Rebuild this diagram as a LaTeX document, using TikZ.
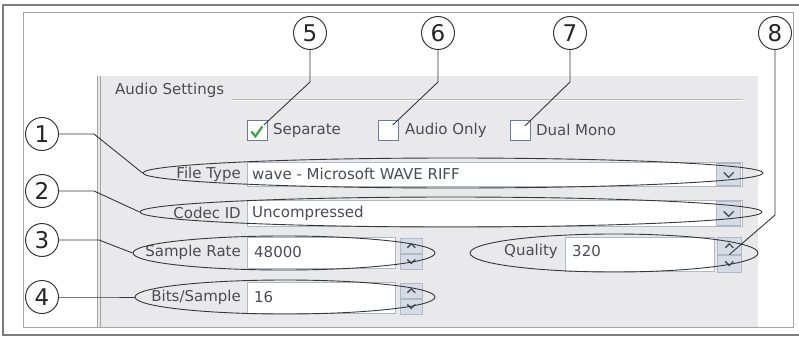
\documentclass[tikz,border=0pt]{standalone}
\usepackage{fontspec}
\setmainfont{DejaVu Sans}
\usetikzlibrary{shapes.geometric, positioning}
\definecolor{framegray}{RGB}{125,125,125}
\definecolor{linegray}{RGB}{165,165,165}
\definecolor{panelgray}{RGB}{233,233,235}
\definecolor{uitxt}{RGB}{75,75,85}
\definecolor{fieldedge}{RGB}{175,185,198}
\definecolor{btnfill}{RGB}{214,220,230}
\definecolor{boxedge}{RGB}{105,125,155}
\definecolor{leadgray}{RGB}{55,55,55}
\definecolor{checkgreen}{RGB}{60,165,70}

\begin{document}
\begin{tikzpicture}[x=1pt, y=-1pt,
    ui/.style={font=\fontsize{15}{18}\selectfont, text=uitxt, inner sep=0pt},
    numcirc/.style={circle, draw=leadgray, line width=1pt, fill=white, minimum size=33pt, inner sep=0pt, font=\fontsize{23}{25}\selectfont, text=black!85},
    ring/.style={ellipse, draw=leadgray, line width=0.9pt, inner sep=0pt},
    leader/.style={draw=leadgray, line width=0.9pt},
    field/.style={draw=fieldedge, fill=white, line width=0.8pt},
    btn/.style={draw=fieldedge, fill=btnfill, line width=0.6pt, minimum width=24pt, inner sep=0pt},
    chkbox/.style={draw=boxedge, fill=white, line width=0.8pt, minimum size=20pt, inner sep=0pt},
    chev/.style={draw=uitxt, line width=1.3pt}]

    \useasboundingbox (0,0) rectangle (799,337);
    \draw[framegray, line width=2pt] (805,5) -- (3,5) -- (3,335) -- (805,335);
    \draw[linegray, line width=1pt] (23,13) rectangle (793,327);
    \fill[panelgray] (97,76) rectangle (758,326.5);
    \draw[linegray] (97,76) -- (97,326.5) (100,76) -- (100,326.5);

    \node[ui, anchor=west] (title) at (115,90) {Audio Settings};
    \draw[linegray!80] (232,99) -- (743,99);
    \draw[white] (232,100) -- (743,100);

    % check boxes
    \node[chkbox, anchor=north west] (cbsep) at (247,120) {};
    \node[ui, right=5pt of cbsep] (tsep) {Separate};
    \node[chkbox, anchor=north west] (cbaud) at (378,120) {};
    \node[ui, right=6pt of cbaud] (taud) {Audio Only};
    \node[chkbox, anchor=north west] (cbdual) at (510,120) {};
    \node[ui, right=5pt of cbdual] (tdual) {Dual Mono};
    \draw[checkgreen, line width=2.2pt] ([shift={(-6,1)}]cbsep.center) -- ++(4,5) -- ++(7,-10);

    % file type
    \draw[field] (247,162) rectangle (742,186);
    \node[btn, minimum height=22pt, anchor=north east] (bft) at (741,163) {};
    \draw[chev] ([shift={(-5,-2)}]bft.center) -- ++(5,5) -- ++(5,-5);
    \node[ui, anchor=east] (lft) at (241,174) {File Type};
    \node[ui, anchor=west] (vft) at (252,174) {wave - Microsoft WAVE RIFF};

    % codec
    \draw[field] (247,200) rectangle (742,226);
    \node[btn, minimum height=24pt, anchor=north east] (bcd) at (741,201) {};
    \draw[chev] ([shift={(-5,-2)}]bcd.center) -- ++(5,5) -- ++(5,-5);
    \node[ui, anchor=east] (lcd) at (241,213) {Codec ID};
    \node[ui, anchor=west] (vcd) at (252,213) {Uncompressed};

    % sample rate
    \draw[field] (247,237) rectangle (395,268);
    \node[btn, minimum width=22pt, minimum height=15pt, anchor=north west] (srup) at (400,238) {};
    \node[btn, minimum width=22pt, minimum height=15pt, below=0pt of srup] (srdn) {};
    \draw[chev] ([shift={(-4,2)}]srup.center) -- ++(4,-4) -- ++(4,4);
    \draw[chev] ([shift={(-4,-2)}]srdn.center) -- ++(4,4) -- ++(4,-4);
    \node[ui, anchor=east] (lsr) at (241,252) {Sample Rate};
    \node[ui, anchor=west] (vsr) at (254,252) {48000};

    % quality
    \draw[field] (565,237) rectangle (714,271);
    \node[btn, minimum height=17pt, anchor=north west] (qup) at (717,237) {};
    \node[btn, minimum height=17pt, below=0pt of qup] (qdn) {};
    \draw[chev] ([shift={(-4,2)}]qup.center) -- ++(4,-4) -- ++(4,4);
    \draw[chev] ([shift={(-4,-2)}]qdn.center) -- ++(4,4) -- ++(4,-4);
    \node[ui, anchor=east] (lq) at (558,251) {Quality};
    \node[ui, anchor=west] (vq) at (572,251) {320};

    % bits per sample
    \draw[field] (247,282) rectangle (395,313);
    \node[btn, minimum width=22pt, minimum height=15pt, anchor=north west] (bsup) at (400,283) {};
    \node[btn, minimum width=22pt, minimum height=15pt, below=0pt of bsup] (bsdn) {};
    \draw[chev] ([shift={(-4,2)}]bsup.center) -- ++(4,-4) -- ++(4,4);
    \draw[chev] ([shift={(-4,-2)}]bsdn.center) -- ++(4,4) -- ++(4,-4);
    \node[ui, anchor=east] (lbs) at (241,297) {Bits/Sample};
    \node[ui, anchor=west] (vbs) at (254,297) {16};

    % rings
    \node[ring, minimum width=620pt, minimum height=30pt] (eft) at (453,173) {};
    \node[ring, minimum width=622pt, minimum height=30pt] (ecd) at (451,212) {};
    \node[ring, minimum width=302pt, minimum height=34pt] (esr) at (284,253) {};
    \node[ring, minimum width=288pt, minimum height=38pt] (eq) at (614,253) {};
    \node[ring, minimum width=300pt, minimum height=34pt] (ebs) at (285,297) {};

    % callouts
    \node[numcirc] (c1) at (42,134) {1};
    \node[numcirc] (c2) at (42,191) {2};
    \node[numcirc] (c3) at (42,240) {3};
    \node[numcirc] (c4) at (42,297) {4};
    \node[numcirc] (c5) at (310,33) {5};
    \node[numcirc] (c6) at (438,33) {6};
    \node[numcirc] (c7) at (570,33) {7};
    \node[numcirc] (c8) at (775,33) {8};

    \draw[leader] (c1.east) -- ++(35,0) -- (eft.west);
    \draw[leader] (c2.east) -- ++(35,0) -- (ecd.west);
    \draw[leader] (c3.east) -- ++(40,0) -- (esr.west);
    \draw[leader] (c4.east) -- ++(45,0) -- (ebs.west);
    \draw[leader] (c5.south) -- ++(0,32) -- ([shift={(-4,5)}]cbsep.north east);
    \draw[leader] (c6.south) -- ++(0,32) -- ([shift={(-6,5)}]cbaud.north east);
    \draw[leader] (c7.south) -- ++(0,32) -- ([shift={(-6,6)}]cbdual.north east);
    \draw[leader] (c8.south) -- ++(0,165) -- (qup.south);
\end{tikzpicture}
\end{document}
